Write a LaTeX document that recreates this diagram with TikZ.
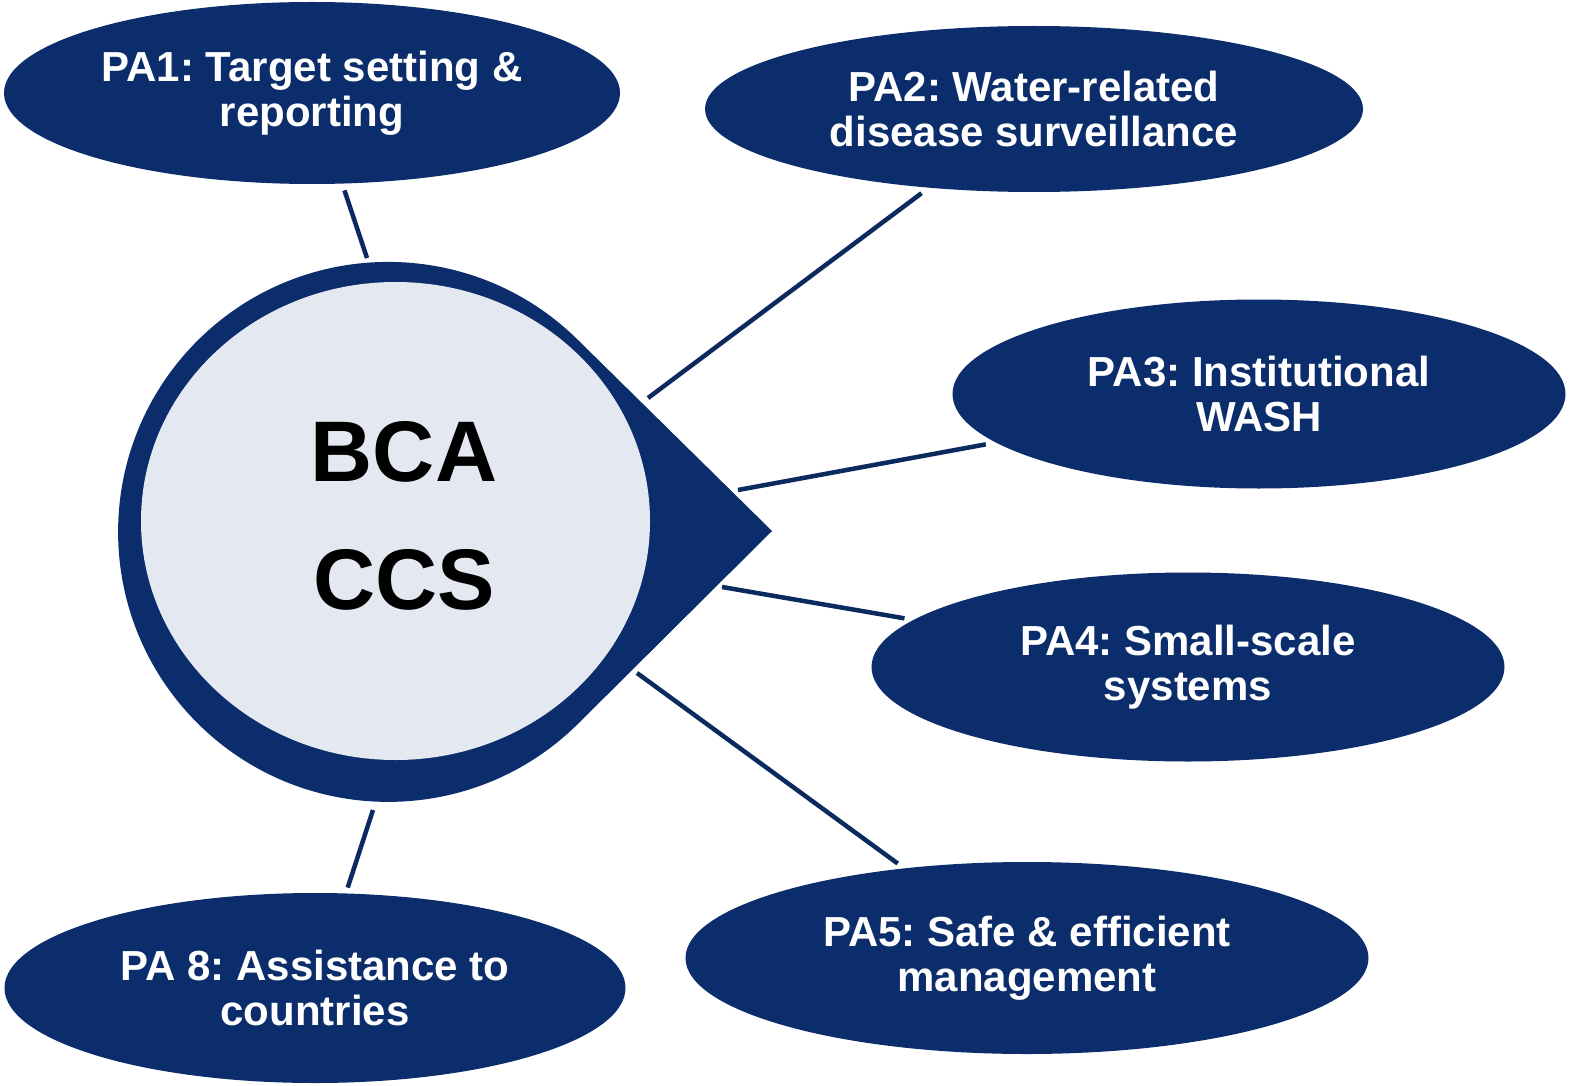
\documentclass[tikz,border=0pt]{standalone}
\usepackage{fontspec}
\setmainfont{Liberation Sans}
\usetikzlibrary{shapes.geometric}
\definecolor{navy}{HTML}{0C2D6B}
\definecolor{navyline}{HTML}{0B2A5E}
\definecolor{corefill}{HTML}{E4E8F1}
\frenchspacing
\tikzset{
  pabox/.style={ellipse, fill=navy, inner sep=0pt, text=white, align=center,
    font=\fontsize{42}{45}\selectfont\bfseries\frenchspacing},
  conn/.style={draw=navyline, line width=4.5pt},
}
\begin{document}
\begin{tikzpicture}[x=1pt,y=-1pt]
\useasboundingbox (0,0) rectangle (1569,1086);
\fill[white] (0,0) rectangle (1569,1086);

% central teardrop
\node[circle, minimum size=540pt, inner sep=0pt] (hub) at (388,532) {};
\coordinate (tip) at (772,531);
\fill[navy] (tip) -- (578,340) arc[start angle=-45.3, end angle=-314.7, radius=270] -- cycle;
\node[ellipse, fill=corefill, inner sep=0pt, minimum width=509pt, minimum height=478pt] (core) at (395.5,521) {};
\node[align=center, font=\fontsize{86}{128}\selectfont\bfseries] (bca) at (404,516) {BCA\\CCS};

% outer ellipses
\node[pabox, minimum width=616pt, minimum height=182pt] (pa1) at (312,93) {PA1: Target setting \&\\reporting};
\node[pabox, minimum width=658pt, minimum height=166pt] (pa2) at (1034,109) {PA2: Water-related\\disease surveillance};
\node[pabox, minimum width=613pt, minimum height=189pt] (pa3) at (1259,394) {PA3: Institutional\\WASH};
\node[pabox, minimum width=633pt, minimum height=189pt] (pa4) at (1188,667) {PA4: Small-scale\\systems};
\node[pabox, minimum width=683pt, minimum height=192pt] (pa5) at (1027,958) {PA5: Safe \& efficient\\management};
\node[pabox, minimum width=621pt, minimum height=190pt] (pa8) at (315,988) {PA 8: Assistance to\\countries};

% connector ends near the hub
\coordinate (h1) at (367,258);
\coordinate (h2) at (648,398);
\coordinate (h3) at (738,490);
\coordinate (h4) at (722,587);
\coordinate (h5) at (637,673);
\coordinate (h8) at (373,810);

\draw[conn, shorten >=7pt] (h1) -- (pa1);
\draw[conn, shorten >=9pt] (h2) -- (pa2);
\draw[conn, shorten >=10pt] (h3) -- (pa3);
\draw[conn, shorten >=9pt] (h4) -- (pa4);
\draw[conn, shorten >=8pt] (h5) -- (pa5);
\draw[conn, shorten >=6pt] (h8) -- (pa8);
\end{tikzpicture}
\end{document}
